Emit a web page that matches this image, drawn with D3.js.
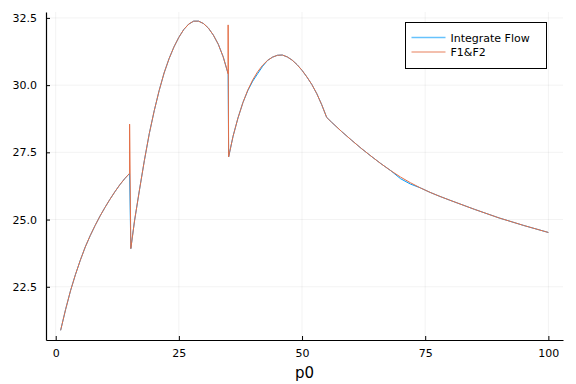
<!DOCTYPE html>
<html>
<head>
<meta charset="utf-8">
<script src="https://cdn.jsdelivr.net/npm/d3@7"></script>
<style>
  body { margin: 0; background: #fff; }
  text { font-family: "DejaVu Sans", sans-serif; fill: #000; }
</style>
</head>
<body>
<div id="chart"></div>
<script>
// shared p0 values (spikes at 15 and 35 are repeated x values)
var p0 = [1, 2, 3, 4, 5, 6, 7, 8, 9, 10, 11, 12, 13, 14, 15, 15, 15.25,
  16, 17, 18, 19, 20, 21, 22, 23, 24, 25, 26, 27, 28, 29, 30, 31, 32, 33, 34, 35, 35, 35.1,
  36, 37, 38, 39, 40, 41, 42, 43, 44, 45, 46, 47, 48, 49, 50, 51, 52, 53, 54, 55,
  56, 58, 60, 62, 64, 66, 68, 70, 72, 74, 76, 78, 80, 85, 90, 95, 100];

var integrateFlow = [20.88, 21.65, 22.35, 22.95, 23.49, 23.98, 24.40, 24.78, 25.13, 25.45, 25.75, 26.03, 26.29, 26.52, 26.72, 26.72, 23.92,
  24.95, 26.1, 27.2, 28.2, 29.05, 29.8, 30.45, 30.98, 31.42, 31.78, 32.07, 32.27, 32.38, 32.38, 32.29, 32.12, 31.86, 31.52, 31.05, 30.42, 30.42, 27.33,
  28.1, 28.78, 29.35, 29.8, 30.15, 30.43, 30.70, 30.92, 31.04, 31.11, 31.12, 31.05, 30.93, 30.76, 30.55, 30.3, 30.02, 29.68, 29.27, 28.80,
  28.62, 28.28, 27.96, 27.65, 27.36, 27.08, 26.82, 26.52, 26.32, 26.18, 26.01, 25.86, 25.72, 25.38, 25.06, 24.78, 24.52];

var f1f2 = [20.88, 21.65, 22.35, 22.95, 23.49, 23.98, 24.40, 24.78, 25.13, 25.45, 25.75, 26.03, 26.29, 26.52, 26.72, 28.55, 23.92,
  24.95, 26.1, 27.2, 28.2, 29.05, 29.8, 30.45, 30.98, 31.42, 31.78, 32.07, 32.27, 32.38, 32.38, 32.29, 32.12, 31.86, 31.52, 31.05, 30.42, 32.24, 27.33,
  28.1, 28.78, 29.35, 29.82, 30.2, 30.5, 30.74, 30.92, 31.04, 31.11, 31.12, 31.05, 30.93, 30.76, 30.55, 30.3, 30.02, 29.68, 29.27, 28.80,
  28.62, 28.28, 27.96, 27.65, 27.36, 27.08, 26.82, 26.58, 26.37, 26.18, 26.01, 25.86, 25.72, 25.38, 25.06, 24.78, 24.52];

var xTicks = [0, 25, 50, 75, 100];
var yTicks = [22.5, 25.0, 27.5, 30.0, 32.5];
var seriesNames = ["Integrate Flow", "F1&F2"];
var colors = ["#009AFA", "#E36F47"];

var svgWidth = 576;
var svgHeight = 384;
var margin = { top: 12, right: 13, bottom: 44, left: 46 };
var width = svgWidth - margin.left - margin.right;
var height = svgHeight - margin.top - margin.bottom;

var svg = d3.select("#chart")
  .append("svg")
  .attr("width", svgWidth)
  .attr("height", svgHeight);

var chartGroup = svg.append("g")
  .attr("transform", `translate(${margin.left}, ${margin.top})`);

var xScale = d3.scaleLinear()
  .domain([-1.97, 102.97])
  .range([0, width]);

var yScale = d3.scaleLinear()
  .domain([20.52, 32.72])
  .range([height, 0]);

// grid
chartGroup.append("g")
  .selectAll("line")
  .data(xTicks)
  .enter()
  .append("line")
  .attr("x1", d => xScale(d))
  .attr("x2", d => xScale(d))
  .attr("y1", 0)
  .attr("y2", height)
  .attr("stroke", "#000")
  .attr("stroke-opacity", 0.1)
  .attr("stroke-width", 0.5);

chartGroup.append("g")
  .selectAll("line")
  .data(yTicks)
  .enter()
  .append("line")
  .attr("x1", 0)
  .attr("x2", width)
  .attr("y1", d => yScale(d))
  .attr("y2", d => yScale(d))
  .attr("stroke", "#000")
  .attr("stroke-opacity", 0.1)
  .attr("stroke-width", 0.5);

// axes
var bottomAxis = d3.axisBottom(xScale)
  .tickValues(xTicks)
  .tickSizeInner(-4)
  .tickSizeOuter(0)
  .tickPadding(9)
  .tickFormat(d3.format("d"));

var leftAxis = d3.axisLeft(yScale)
  .tickValues(yTicks)
  .tickSizeInner(-4)
  .tickSizeOuter(0)
  .tickPadding(9)
  .tickFormat(d3.format(".1f"));

var xAxis = chartGroup.append("g")
  .attr("transform", `translate(0, ${height})`)
  .call(bottomAxis);

var yAxis = chartGroup.append("g")
  .call(leftAxis);

[xAxis, yAxis].forEach(function(ax) {
  ax.select(".domain").attr("stroke", "#000").attr("stroke-width", 1.2);
  ax.selectAll(".tick line").attr("stroke", "#000");
  ax.selectAll(".tick text").attr("font-size", "11px").attr("fill", "#000")
    .attr("font-family", "DejaVu Sans, sans-serif");
});

chartGroup.append("text")
  .attr("x", width / 2)
  .attr("y", height + 38)
  .attr("text-anchor", "middle")
  .attr("font-size", "15px")
  .text("p0");

// lines
var seriesData = [integrateFlow, f1f2];
var line = d3.line()
  .x((d, i) => xScale(p0[i]))
  .y(d => yScale(d));

chartGroup.selectAll(".series")
  .data(seriesData)
  .enter()
  .append("path")
  .attr("class", "series")
  .attr("d", d => line(d))
  .attr("fill", "none")
  .attr("stroke", (d, i) => colors[i])
  .attr("stroke-width", 1);

// legend
var legend = svg.append("g")
  .attr("transform", "translate(405.5, 22.5)");

legend.append("rect")
  .attr("width", 141)
  .attr("height", 46)
  .attr("fill", "#fff")
  .attr("stroke", "#000")
  .attr("stroke-width", 1);

seriesNames.forEach(function(name, i) {
  var y = 15 + i * 14.5;
  legend.append("line")
    .attr("x1", 6)
    .attr("x2", 40)
    .attr("y1", y)
    .attr("y2", y)
    .attr("stroke", colors[i])
    .attr("stroke-opacity", 0.6)
    .attr("stroke-width", 1.5);
  legend.append("text")
    .attr("x", 45)
    .attr("y", y + 4)
    .attr("font-size", "11px")
    .text(name);
});
</script>
</body>
</html>
